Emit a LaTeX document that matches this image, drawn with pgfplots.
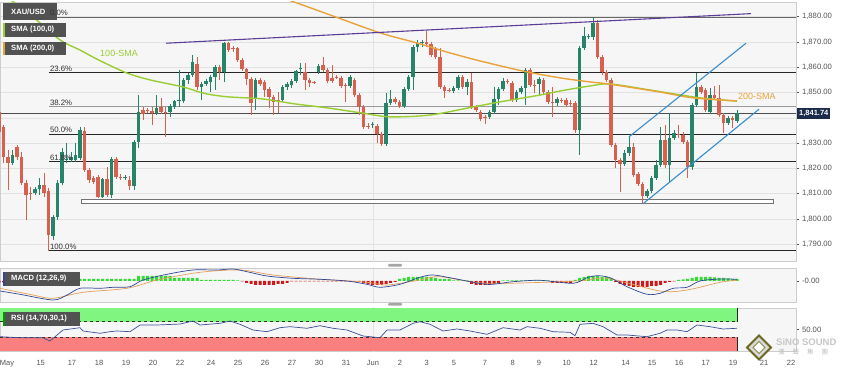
\documentclass[border=0pt]{standalone}
\usepackage{fontspec}
\setmainfont{Liberation Sans}
\newfontfamily\cjk{Noto Sans CJK TC}
\usepackage{pgfplots}
\usepackage{pgfplotstable}
\pgfplotsset{compat=1.18}

\definecolor{cUp}{RGB}{38,133,104}
\definecolor{cDn}{RGB}{216,96,78}
\definecolor{smaG}{RGB}{154,205,50}
\definecolor{smaO}{RGB}{232,163,58}
\definecolor{trendP}{RGB}{92,62,150}
\definecolor{chanB}{RGB}{52,142,208}
\definecolor{bgP}{RGB}{246,246,246}
\definecolor{bordP}{RGB}{205,205,205}
\definecolor{gridP}{RGB}{226,226,226}
\definecolor{lblG}{RGB}{85,85,85}
\definecolor{boxG}{RGB}{82,82,82}
\definecolor{navy}{RGB}{28,43,74}
\definecolor{macdB}{RGB}{48,72,150}
\definecolor{sigO}{RGB}{230,160,90}
\definecolor{histG}{RGB}{50,220,50}
\definecolor{histR}{RGB}{205,25,25}
\definecolor{rsiG}{RGB}{128,245,128}
\definecolor{rsiR}{RGB}{250,128,128}
\definecolor{rsiL}{RGB}{60,80,150}
\definecolor{fibT}{RGB}{50,50,50}

\pgfplotstableread{
x o h l c
-1 1842.3 1849.0 1833.6 1834.4
3.5 1836.4 1837.2 1822.2 1824.5
8 1824.5 1827.3 1811.5 1822.2
17 1828.5 1829.3 1823.4 1824.5
21.5 1824.5 1826.5 1813.5 1814.3
26 1814.3 1815.4 1799.6 1809.5
30.5 1810.3 1812.7 1807.5 1809.9
44 1813.5 1818.2 1808.7 1810.3
48.5 1811.1 1812.3 1787.4 1793.7
84.5 1834.8 1836.4 1818.6 1819.4
89 1819.4 1820.2 1814.3 1815.4
93.5 1816.2 1817.0 1813.9 1814.7
98 1816.6 1817.4 1808.3 1808.7
107 1815.8 1820.6 1808.7 1809.5
116 1823.7 1824.5 1815.8 1816.6
120.5 1816.6 1817.8 1815.4 1816.2
129.5 1815.4 1817.0 1811.5 1813.1
143 1843.1 1844.3 1839.2 1841.5
147.5 1843.1 1843.9 1841.9 1842.7
152 1842.7 1844.3 1837.2 1841.9
161 1844.3 1847.9 1841.5 1842.3
165.5 1842.3 1844.3 1832.4 1841.9
197 1861.3 1864.1 1851.0 1852.2
219.5 1860.1 1860.9 1855.0 1858.1
228.5 1869.6 1870.0 1866.0 1866.8
233 1867.6 1868.4 1866.0 1867.2
237.5 1867.6 1868.0 1862.1 1862.9
242 1862.9 1863.7 1858.5 1859.3
246.5 1859.3 1859.7 1853.0 1855.4
251 1855.4 1856.2 1841.1 1845.9
260 1855.0 1855.8 1852.6 1853.4
264.5 1854.2 1855.0 1848.3 1851.0
269 1851.4 1852.2 1843.9 1848.3
273.5 1848.3 1849.0 1841.1 1846.3
278 1847.1 1850.2 1841.9 1846.7
305 1858.1 1861.7 1851.0 1855.0
309.5 1855.0 1855.8 1852.2 1853.8
314 1854.2 1854.6 1853.4 1853.8
323 1860.9 1864.1 1858.1 1858.9
327.5 1858.9 1859.7 1853.8 1854.6
332 1855.8 1860.9 1853.8 1854.6
336.5 1856.2 1857.0 1855.4 1855.8
341 1855.8 1856.6 1851.8 1852.6
345.5 1853.0 1853.8 1846.3 1852.6
354.5 1855.0 1855.8 1848.3 1849.0
359 1849.0 1849.8 1841.1 1844.3
363.5 1844.3 1845.1 1835.6 1836.4
368 1836.8 1838.0 1835.6 1836.4
377 1836.8 1837.6 1830.1 1833.6
381.5 1833.6 1834.4 1828.9 1829.7
395 1847.5 1848.3 1845.5 1846.3
399.5 1846.3 1847.1 1843.9 1844.7
426.5 1870.0 1874.3 1868.0 1869.2
431 1869.2 1870.0 1864.1 1864.9
435.5 1867.2 1868.0 1863.3 1864.1
440 1864.1 1867.6 1851.4 1852.2
444.5 1852.2 1853.0 1847.9 1850.6
449 1851.0 1851.8 1850.2 1850.6
462.5 1856.2 1857.0 1851.4 1852.2
471.5 1854.2 1857.7 1843.5 1844.3
476 1844.3 1845.1 1842.3 1843.1
480.5 1842.3 1843.1 1838.8 1839.6
485 1840.4 1841.1 1837.6 1840.0
507.5 1854.6 1855.4 1853.4 1854.2
512 1853.8 1854.6 1846.3 1847.1
530 1858.9 1859.7 1852.2 1853.0
534.5 1853.0 1855.0 1849.8 1852.6
543.5 1855.0 1855.8 1849.4 1850.2
548 1850.2 1851.0 1845.5 1846.3
552.5 1846.3 1852.2 1840.4 1845.9
561.5 1847.1 1847.9 1845.9 1846.7
566 1847.1 1847.9 1844.3 1845.1
570.5 1845.9 1847.1 1844.3 1845.5
575 1845.9 1846.7 1834.0 1835.2
597.5 1877.5 1878.7 1863.3 1864.1
602 1864.1 1864.9 1857.0 1858.1
606.5 1858.1 1858.9 1854.2 1855.0
611 1855.0 1855.8 1828.5 1829.3
615.5 1829.3 1830.1 1820.2 1823.4
620 1823.4 1824.1 1810.7 1821.8
633.5 1828.5 1830.1 1816.6 1817.4
638 1817.8 1818.6 1813.1 1813.9
642.5 1813.9 1814.7 1806.0 1809.1
665 1831.3 1837.2 1820.2 1821.4
678.5 1833.8 1837.2 1832.0 1833.4
683 1833.2 1834.4 1829.7 1830.5
687.5 1830.5 1831.3 1816.2 1820.6
701 1852.2 1853.0 1849.4 1850.2
705.5 1851.0 1851.8 1842.3 1843.1
714.5 1849.0 1852.6 1847.1 1847.9
719 1847.9 1853.0 1840.4 1841.1
723.5 1841.1 1841.9 1834.0 1838.0
732.5 1840.0 1840.8 1836.0 1839.2
}\redtab

\pgfplotstableread{
x o h l c
12.5 1822.2 1827.3 1821.4 1825.3
35 1810.3 1812.7 1809.5 1811.9
39.5 1811.9 1816.2 1809.5 1813.5
53 1793.3 1801.6 1791.7 1800.8
57.5 1800.8 1815.4 1799.6 1814.3
62 1814.3 1828.1 1813.5 1826.5
66.5 1823.4 1830.1 1822.2 1823.8
71 1823.4 1826.5 1822.6 1824.5
75.5 1823.4 1830.1 1822.6 1825.3
80 1824.1 1836.4 1823.4 1835.2
102.5 1808.7 1816.2 1808.3 1815.8
111.5 1809.5 1824.5 1808.3 1823.7
125 1816.2 1817.4 1815.4 1816.6
134 1813.1 1831.3 1811.5 1830.5
138.5 1830.5 1849.0 1828.1 1842.3
156.5 1841.9 1849.0 1841.1 1843.9
170 1842.3 1845.5 1840.4 1844.7
174.5 1844.3 1847.1 1843.5 1846.7
179 1846.7 1858.9 1844.3 1847.1
183.5 1846.7 1855.8 1845.9 1855.0
188 1855.0 1857.7 1853.4 1857.0
192.5 1857.0 1864.9 1856.2 1862.1
201.5 1852.2 1854.2 1847.1 1853.4
206 1853.4 1855.4 1852.6 1854.6
210.5 1854.2 1857.0 1850.2 1856.2
215 1856.2 1860.9 1851.0 1860.1
224 1858.1 1870.0 1854.2 1869.6
255.5 1847.9 1855.8 1843.1 1855.0
282.5 1847.1 1853.0 1846.3 1852.2
287 1852.2 1854.2 1851.0 1853.4
291.5 1853.0 1855.4 1851.8 1854.6
296 1854.6 1858.9 1853.8 1858.5
300.5 1859.5 1861.7 1857.0 1859.9
318.5 1858.1 1861.3 1857.3 1860.5
350 1852.6 1857.0 1851.8 1856.2
372.5 1837.0 1838.4 1836.0 1837.4
386 1829.7 1849.8 1828.9 1845.9
390.5 1845.9 1851.0 1845.1 1847.5
404 1844.7 1852.2 1843.9 1851.4
408.5 1851.4 1857.0 1850.6 1856.2
413 1856.2 1868.8 1851.0 1868.0
417.5 1868.0 1870.8 1866.0 1869.6
422 1869.6 1870.8 1868.0 1870.0
453.5 1850.6 1852.6 1849.8 1851.8
458 1851.8 1857.0 1851.0 1856.2
467 1852.2 1855.4 1849.0 1854.2
489.5 1840.4 1843.1 1839.6 1842.3
494 1842.3 1852.2 1841.5 1847.5
498.5 1847.5 1852.2 1845.1 1851.4
503 1851.4 1855.8 1850.6 1854.6
516.5 1847.1 1851.0 1846.3 1850.2
521 1850.2 1852.6 1849.4 1851.8
525.5 1851.8 1859.7 1845.1 1858.9
539 1853.4 1856.2 1849.0 1855.4
557 1845.9 1848.3 1844.7 1847.5
579.5 1835.2 1868.4 1825.3 1867.6
584 1867.6 1875.9 1866.8 1872.4
588.5 1872.0 1873.2 1871.2 1872.4
593 1872.0 1879.85 1870.8 1877.5
624.5 1821.8 1827.3 1821.0 1826.1
629 1826.1 1832.4 1824.9 1828.5
647 1809.1 1811.9 1808.3 1811.1
651.5 1811.1 1817.0 1810.3 1816.2
656 1816.2 1823.4 1815.4 1821.4
660.5 1821.4 1836.4 1820.6 1831.3
669.5 1821.4 1841.9 1814.7 1832.0
674 1832.0 1835.2 1831.3 1834.0
692 1820.6 1845.9 1819.4 1845.1
696.5 1845.1 1857.7 1844.3 1852.2
710 1842.3 1851.8 1841.5 1849.0
728 1838.0 1840.8 1837.2 1840.0
737 1838.8 1843.1 1838.0 1841.74
}\greentab

\pgfplotsset{panel/.style={
  scale only axis, width=796pt, xmin=0, xmax=796,
  axis background/.style={fill=bgP},
  axis line style={draw=bordP},
  xtick=\empty,
  ytick pos=right, yticklabel pos=right,
  tick align=outside, major tick length=3pt,
  major tick style={draw=lblG, line width=0.5pt},
  yticklabel style={font=\fontsize{7.7}{9}\selectfont, text=lblG, xshift=-0.5pt},
  clip=true,
},
candle/.style={only marks, mark=*, mark size=0pt, mark options={draw=none, fill=none}}
}

\begin{document}
\begin{tikzpicture}[x=1pt,y=1pt]
\fill[white] (0,0) rectangle (845,369);
\useasboundingbox (0,0) rectangle (845,369);

% ================= MAIN PRICE PANEL =================
\begin{axis}[panel, at={(0pt,107.5pt)}, anchor=south west, height=259.5pt,
  ymin=1783.2, ymax=1885.8, ytick={1790,1800,1810,1820,1830,1850,1860,1870,1880},
  ymajorgrids, grid style={draw=gridP, line width=0.5pt},
  yticklabel={\pgfmathprintnumber[fixed,fixed zerofill,precision=2,1000 sep={,},assume math mode=true]{\tick}},
]
\addplot[draw=gridP, line width=0.5pt] coordinates {(0,1840) (796,1840)};
\addplot[draw=gridP, line width=0.6pt] coordinates {(373,1780) (373,1890)};
% Fibonacci levels
\addplot[draw=black!60, line width=0.8pt] coordinates {(49,1879.85) (796,1879.85)};
\addplot[draw=black!85, line width=0.8pt] coordinates {(49,1858.0) (796,1858.0)};
\addplot[draw=black!40, line width=1.6pt] coordinates {(49,1844.5) (796,1844.5)};
\addplot[draw=black!85, line width=0.8pt] coordinates {(49,1833.6) (796,1833.6)};
\addplot[draw=black!85, line width=0.8pt] coordinates {(49,1822.7) (796,1822.7)};
\addplot[draw=black!85, line width=0.8pt] coordinates {(49,1787.4) (796,1787.4)};
% current price line
\addplot[draw=black!70, line width=0.7pt] coordinates {(0,1841.74) (796,1841.74)};
% support rectangle
\addplot[draw=black!55, fill=white, line width=0.8pt] coordinates {(81,1806.0) (773,1806.0) (773,1807.9) (81,1807.9) (81,1806.0)};

% candles: wicks
\addplot[candle, error bars/.cd, y dir=both, y explicit, error mark=none,
  error bar style={line width=0.75pt, draw=cDn}]
  table[x=x, y=c, y error plus expr=\thisrow{h}-\thisrow{c}, y error minus expr=\thisrow{c}-\thisrow{l}] {\redtab};
\addplot[candle, error bars/.cd, y dir=both, y explicit, error mark=none,
  error bar style={line width=0.75pt, draw=cUp}]
  table[x=x, y=c, y error plus expr=\thisrow{h}-\thisrow{c}, y error minus expr=\thisrow{c}-\thisrow{l}] {\greentab};
% candles: bodies
\addplot[candle, error bars/.cd, y dir=plus, y explicit, error mark=none,
  error bar style={line width=3.2pt, draw=cDn}]
  table[x=x, y=c, y error plus expr=\thisrow{o}-\thisrow{c}] {\redtab};
\addplot[candle, error bars/.cd, y dir=plus, y explicit, error mark=none,
  error bar style={line width=3.2pt, draw=cUp}]
  table[x=x, y=o, y error plus expr=\thisrow{c}-\thisrow{o}] {\greentab};

% SMAs
\addplot[smaG, line width=1.4pt, smooth] coordinates {
(8,1887.4) (33,1879.9) (60,1870.8) (80,1866.8) (100,1862.6) (127,1857.7) (150,1855.0)
(183,1852.2) (205,1849.6) (228,1848.3) (262,1847.5) (295,1845.5) (328,1843.9) (362,1841.9)
(390,1840.4) (430,1841.1) (473,1844.3) (500,1846.3) (540,1849.0) (560,1850.6) (590,1852.6)
(610,1853.4) (650,1851.0) (700,1847.9) (737,1846.6)};
\addplot[smaO, line width=1.4pt, smooth] coordinates {
(283,1887.4) (330,1880.7) (380,1873.6) (417,1869.6) (447,1866.0) (480,1862.5) (523,1858.5)
(560,1855.8) (590,1854.2) (610,1853.3) (660,1850.2) (693,1847.9) (737,1846.7)};

% trend lines
\addplot[trendP, line width=1.1pt] coordinates {(166,1869.5) (751,1881.2)};
\addplot[chanB, line width=1.1pt] coordinates {(629,1832.5) (746,1869.5)};
\addplot[chanB, line width=1.1pt] coordinates {(643,1806.0) (759,1843.4)};

% labels
\begin{scope}[every node/.style={anchor=south west, inner sep=0.8pt, font=\fontsize{7.8}{9}\selectfont, text=fibT}]
\node at (axis cs:49,1858.0) {23.6\%};
\node at (axis cs:49,1844.5) {38.2\%};
\node at (axis cs:49,1833.6) {50.0\%};
\node at (axis cs:49,1822.7) {61.8\%};
\node at (axis cs:49,1787.4) {100.0\%};
\end{scope}
\coordinate (fibzero) at (axis cs:49,1879.85);
\node[font=\fontsize{9}{10}\selectfont, text=smaG] at (axis cs:119,1865.3) {100-SMA};
\node[anchor=west, inner sep=0pt, font=\fontsize{9}{10}\selectfont, text=smaO] at (axis cs:738,1848.3) {200-SMA};
\end{axis}

% ================= MACD PANEL =================
\begin{axis}[panel, at={(0pt,67pt)}, anchor=south west, height=34pt,
  ymin=-21, ymax=13, ytick={0}, yticklabels={-0.00}]
\addplot[draw=gridP, line width=0.6pt] coordinates {(373,-30) (373,30)};
\addplot[ybar, bar width=3pt, bar shift=0pt, fill=histR, draw=none] coordinates {
(-1,-1.5) (3.5,-1.5) (8,-1.5) (12.5,-1.5) (17,-1.5) (21.5,-1.5) (26,-1.5) (30.5,-1.5) (35,-1.5) (39.5,-1.5) (44,-1.5) (48.5,-1.5) (53,-1)
(242,-0.5) (246.5,-2) (251,-3) (255.5,-4) (260,-4) (264.5,-4) (269,-4) (273.5,-4) (278,-3) (282.5,-3) (287,-2)
(291.5,-0.5) (296,-0.5) (300.5,-0.5) (305,-0.5) (309.5,-0.5) (314,-0.5) (318.5,-0.5) (323,-0.5) (327.5,-0.5) (332,-0.5) (336.5,-0.5) (341,-0.5) (345.5,-0.5) (350,-0.5) (354.5,-0.5) (359,-0.5)
(363.5,-2) (368,-3) (372.5,-4) (377,-4) (381.5,-4) (386,-3) (390.5,-2) (395,-1)
(471.5,-3) (476,-4) (480.5,-4) (485,-4) (489.5,-4) (494,-3) (498.5,-2)
(552.5,-2) (557,-2) (561.5,-2) (566,-2) (570.5,-2)
(615.5,-1) (620,-3) (624.5,-4) (629,-5) (633.5,-6) (638,-6) (642.5,-6) (647,-6) (651.5,-5) (656,-5) (660.5,-4) (665,-2) (669.5,-1) (674,-0.5)};
\addplot[ybar, bar width=3pt, bar shift=0pt, fill=histG, draw=none] coordinates {
(57.5,1) (62,2) (66.5,4) (71,4) (75.5,4)
(80,2) (84.5,2) (89,2) (93.5,2) (98,2) (102.5,2) (107,2) (111.5,2) (116,2) (120.5,2) (125,2) (129.5,2) (134,2)
(138.5,5) (143,5) (147.5,5) (152,5) (156.5,5) (161,5) (165.5,5) (170,5)
(174.5,3) (179,3) (183.5,3) (188,3) (192.5,3) (197,3)
(201.5,1) (206,1) (210.5,1) (215,1) (219.5,1) (224,1) (228.5,1) (233,1) (237.5,0.5)
(399.5,2) (404,3) (408.5,4) (413,4) (417.5,4) (422,4) (426.5,4) (431,4) (435.5,3) (440,2) (444.5,2) (449,2)
(453.5,0.5) (458,0.5) (462.5,0.5) (467,0.5)
(503,0.5) (507.5,0.5) (512,0.5) (516.5,0.5) (521,0.5) (525.5,0.5) (530,0.5) (534.5,0.5) (539,0.5) (543.5,0.5) (548,0.5)
(575,1) (579.5,3) (584,4) (588.5,5) (593,5) (597.5,5) (602,4) (606.5,4) (611,3)
(678.5,1) (683,1.5) (687.5,2) (692,3) (696.5,4) (701,4) (705.5,4) (710,4) (714.5,3.5) (719,3) (723.5,3) (728,2.5) (732.5,2) (737,2)};
\addplot[sigO, line width=0.7pt, smooth] coordinates {
(0,-7.3) (33,-14) (53,-17.3) (83,-11.3) (127,-7.3) (157,1) (200,8.7) (240,11) (273,6) (317,2)
(367,-1.3) (387,-4) (420,1) (440,4.3) (487,-2.3) (577,0) (607,2.7) (660,-10) (687,-9) (720,-1.3) (737,0.7)};
\addplot[macdB, line width=0.7pt, smooth] coordinates {
(0,-10) (20,-13.3) (53,-19) (67,-14) (80,-7.3) (100,-7.3) (113,-6.3) (130,-5.7) (143,1) (167,6.7)
(193,11) (217,11) (233,12) (247,9.3) (267,5) (293,2.7) (320,1.7) (347,0) (367,-3.3) (380,-6.3)
(400,-3.3) (420,3.7) (433,6) (453,2.7) (487,-3.3) (513,-0.7) (540,0.7) (573,-2.3) (587,3.3) (597,5.3)
(610,3.3) (627,-5.7) (647,-13.3) (660,-12.3) (673,-7.3) (687,-6.3) (700,0) (720,2) (737,1.7)};
\end{axis}

% ================= RSI PANEL =================
\begin{axis}[panel, at={(0pt,18pt)}, anchor=south west, height=43pt,
  ymin=-5, ymax=105, ytick={50}, yticklabels={50.00},
  xtick={7,40.7,72,99,126,153,180,211,238,265,292,319,346,373,400,426.7,454,485,512.7,539,566.7,593.7,625.7,652,679,705.7,733,764,791},
  xticklabels={May,15,17,18,19,20,22,24,25,26,27,30,31,Jun,2,3,5,7,8,9,10,12,14,15,16,17,19,21,22},
  xticklabel style={font=\fontsize{7.5}{9}\selectfont, text=lblG, yshift=-2.5pt},
  major x tick style={draw=none}]
\addplot[draw=gridP, line width=0.6pt] coordinates {(373,-10) (373,110)};
\fill[rsiG] (axis cs:0,70) rectangle (axis cs:737.3,106);
\fill[rsiR] (axis cs:0,-6) rectangle (axis cs:737.3,30);
\addplot[black!80, dashed, line width=0.6pt] coordinates {(0,70) (737.3,70)};
\addplot[black!80, dashed, line width=0.6pt] coordinates {(0,30) (737.3,30)};
\addplot[black!85, line width=0.9pt] coordinates {(737.3,70) (737.3,106)};
\addplot[black!85, line width=0.9pt] coordinates {(737.3,-6) (737.3,30)};
\addplot[rsiL, line width=0.7pt] coordinates {
(0,31.6) (20,29) (43,29) (50,20.6) (63,48.7) (80,54.6) (83,46.2) (100,40.3) (110,44.4) (117,46.2)
(130,44.4) (140,61.5) (157,61.5) (180,64) (193,71.7) (200,61.5) (220,65.8) (230,71.7) (240,63.3)
(253,48.7) (267,44.4) (280,54.6) (290,57.2) (307,53.1) (320,59.7) (333,53.1) (347,48.7) (363,33.4)
(380,29) (387,48.7) (400,48.7) (413,65.8) (420,70) (430,63.3) (443,46.2) (457,51.3) (470,46.2)
(487,37.7) (503,54.6) (520,48.7) (527,57.2) (540,53.1) (553,44.4) (570,42.8) (575,34.1) (580,63.3)
(593,65.8) (603,57.2) (617,35.9) (627,35.9) (647,31.6) (660,40.3) (667,48.7) (677,48.7) (687,44.4)
(697,61.5) (710,57.2) (723,51.3) (737,53.1)};
\end{axis}

% ================= overlays =================
\fill[black!35, rounded corners=1pt] (388,102.3) rectangle (402,105);
\fill[black!35, rounded corners=1pt] (388,63.3) rectangle (402,66);

\node[fill=navy, text=white, font=\bfseries\fontsize{7.5}{9}\selectfont, inner xsep=2pt, inner ysep=2pt, anchor=west] at (797,255.5) {1,841.74};

\fill[boxG] (3,349) rectangle (57,365.7);
\node[anchor=west, text=white, font=\bfseries\fontsize{7.6}{9}\selectfont, inner sep=0pt] at (11,357.3) {XAU/USD};
\fill[boxG] (3,332) rectangle (66,346.3);
\fill[smaG] (3,332) rectangle (5,346.3);
\node[anchor=west, text=white, font=\bfseries\fontsize{7.6}{9}\selectfont, inner sep=0pt] at (11,339.2) {SMA (100,0)};
\fill[boxG] (3,314) rectangle (66,327.3);
\fill[smaO] (3,314) rectangle (5,327.3);
\node[anchor=west, text=white, font=\bfseries\fontsize{7.6}{9}\selectfont, inner sep=0pt] at (11,320.7) {SMA (200,0)};
\node[anchor=south west, inner sep=0.8pt, font=\fontsize{7.8}{9}\selectfont, text=fibT] at (fibzero) {0.0\%};
\fill[boxG] (3,83.3) rectangle (80,97.3);
\fill[macdB] (3,83.3) rectangle (5,97.3);
\node[anchor=west, text=white, font=\bfseries\fontsize{7.6}{9}\selectfont, inner sep=0pt] at (11,90.3) {MACD (12,26,9)};
\fill[boxG] (3,43.3) rectangle (80,57.3);
\fill[green!60!black] (3,43.3) rectangle (5,57.3);
\node[anchor=west, text=white, font=\bfseries\fontsize{7.6}{9}\selectfont, inner sep=0pt] at (11,50.3) {RSI (14,70,30,1)};

% watermark
\filldraw[fill=black!15, draw=olive!70!black, line width=1.8pt] (759,9.5) -- (771,21.5) -- (759,33.5) -- (747,21.5) -- cycle;
\filldraw[fill=white, draw=olive!50!gray, line width=1pt] (759,15.5) -- (765,21.5) -- (759,27.5) -- (753,21.5) -- cycle;
\node[anchor=west, inner sep=0pt, text=black!22, font=\bfseries\fontsize{9.5}{10}\selectfont] at (776,27) {SiNO SOUND};
\node[anchor=west, inner sep=0pt, text=black!25, font=\cjk\fontsize{6.5}{7}\selectfont] at (778,16.5) {漢\hspace{8pt}聲\hspace{8pt}集\hspace{8pt}團};
\end{tikzpicture}
\end{document}
